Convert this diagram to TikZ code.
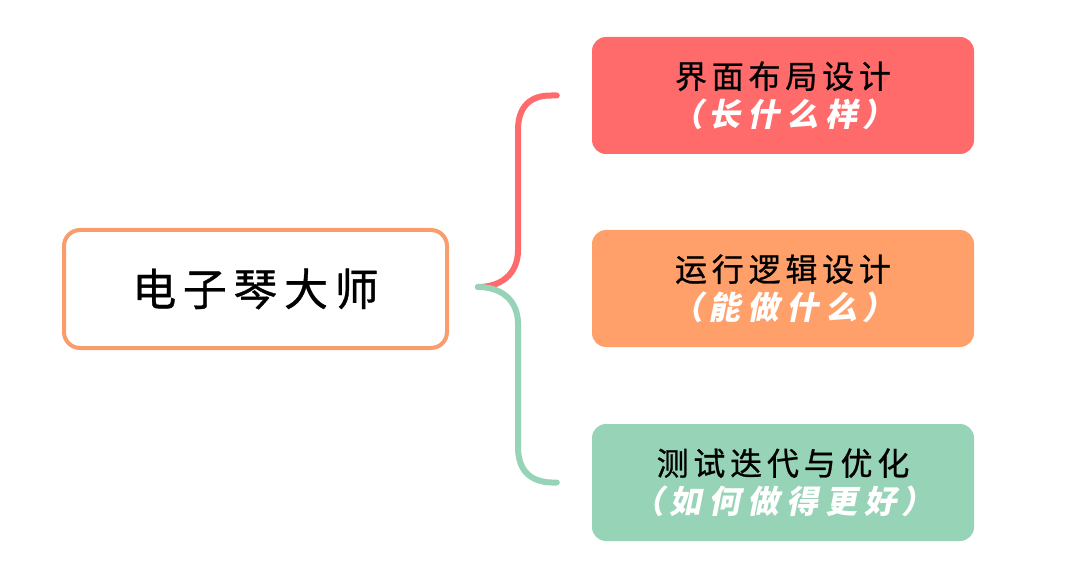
\documentclass[tikz,border=0pt]{standalone}
\usepackage{fontspec}
\newfontfamily\cjk[LetterSpace=15,FakeBold=0.8]{Noto Sans CJK SC}
\newfontfamily\cjkit[FakeSlant=0.2,LetterSpace=22]{Noto Sans CJK SC}
\usetikzlibrary{calc}
\definecolor{cred}{HTML}{FF6B6B}
\definecolor{corange}{HTML}{FFA06B}
\definecolor{cgreen}{HTML}{96D3B7}
\definecolor{cborder}{HTML}{F99D6D}
\newcommand{\subline}[1]{{\cjkit\bfseries\color{white}（\hspace{5pt}#1\hspace{5pt}）}}
\begin{document}
\begin{tikzpicture}[x=1pt, y=-1pt, line join=round, line cap=round,
	topic/.style={draw=cborder, line width=4pt, rounded corners=16pt, fill=white,
		minimum width=383pt, minimum height=118pt, inner sep=0pt,
		font=\cjk\fontsize{44}{48}\selectfont},
	part/.style={rounded corners=14pt, minimum width=382pt, minimum height=117pt,
		inner sep=0pt, align=center, font=\cjk\fontsize{32}{38}\selectfont},
	brace/.style={line width=6pt}]
	\useasboundingbox (0,0) rectangle (1080,575);
	\node[topic] (piano) at (255.5,289) {电子琴大师};
	\node[part, fill=cred] (layout) at (783,95.5) {界面布局设计\\[0pt]\subline{长什么样}};
	\node[part, fill=corange] (logic) at (783,288.5) {运行逻辑设计\\[0pt]\subline{能做什么}};
	\node[part, fill=cgreen] (test) at (783,482.5) {测试迭代与优化\\[0pt]\subline{如何做得更好}};
	% 大括号
	\coordinate (tip) at ($(piano.east)+(29,-2)$);
	\coordinate (up) at ($(layout.west)+(-35,0)$);
	\coordinate (down) at ($(test.west)+(-35,0)$);
	\draw[brace, cred] (up) -- ++(-5,0) .. controls (530,95) and (518,107) .. (518,130)
		-- (518,250) .. controls (518,275) and (500,287) .. (tip);
	\draw[brace, cgreen] (tip) .. controls (500,287) and (518,299) .. (518,324)
		-- (518,447) .. controls (518,470) and (530,482) .. ($(down)+(-5,0)$) -- (down);
\end{tikzpicture}
\end{document}
